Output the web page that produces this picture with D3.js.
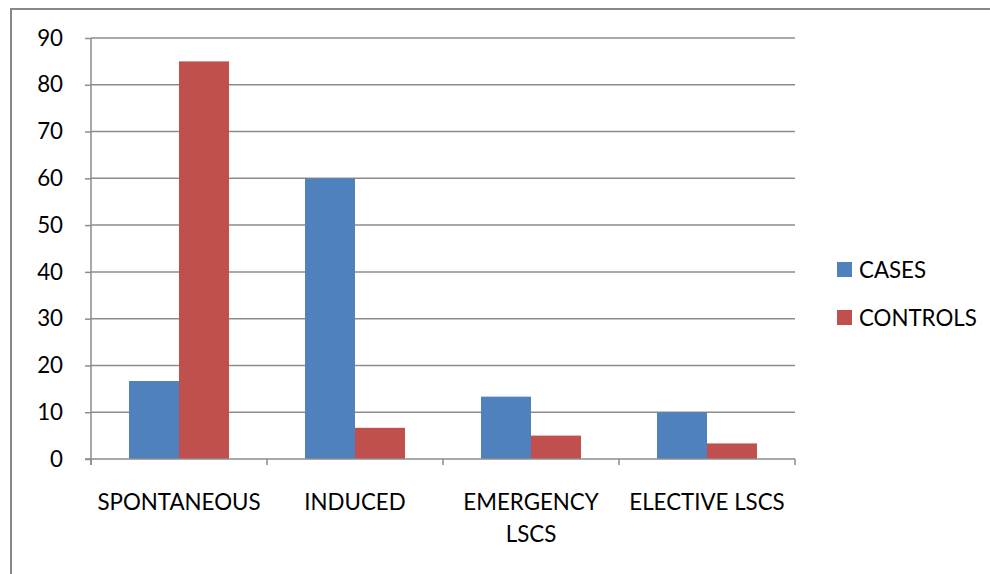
<!DOCTYPE html>
<html>
<head>
<meta charset="utf-8">
<script src="https://cdn.jsdelivr.net/npm/d3@7"></script>
<style>
  html, body { margin: 0; padding: 0; background: #fff; }
  svg { display: block; font-family: Lato, "Open Sans", sans-serif; }
</style>
</head>
<body>
<svg id="chart" width="990" height="574"></svg>
<script>
// Delivery mode: cases vs controls (%)
const categories = [["SPONTANEOUS"], ["INDUCED"], ["EMERGENCY", "LSCS"], ["ELECTIVE LSCS"]];
const seriesNames = ["CASES", "CONTROLS"];
const cases = [16.67, 60, 13.33, 10];
const controls = [85, 6.67, 5, 3.33];
const yTicks = [0, 10, 20, 30, 40, 50, 60, 70, 80, 90];
const colors = ["#4F81BD", "#C0504D"];

const svg = d3.select("#chart");
const W = 990, H = 574;
const plot = { left: 91, right: 795, top: 38, bottom: 459 };
const FS = 22.3;

// Outer chart border
svg.append("rect")
  .attr("x", 11).attr("y", 9)
  .attr("width", W + 20).attr("height", H + 20)
  .attr("fill", "none").attr("stroke", "#878787").attr("stroke-width", 2);

const catKeys = categories.map(c => c.join(" "));
const x0 = d3.scaleBand().domain(catKeys).range([plot.left, plot.right]).paddingInner(0).paddingOuter(0);
const barW = x0.bandwidth() * 0.284;
const y = d3.scaleLinear().domain([0, 90]).range([plot.bottom, plot.top]);

// Gridlines
svg.append("g").selectAll("line").data(yTicks.filter(v => v > 0)).join("line")
  .attr("x1", plot.left).attr("x2", plot.right)
  .attr("y1", d => y(d)).attr("y2", d => y(d))
  .attr("stroke", "#8c8c8c").attr("stroke-width", 1.5);

// Bars
const rows = catKeys.map((k, i) => ({ key: k, vals: [cases[i], controls[i]] }));
const g = svg.append("g");
rows.forEach(r => {
  r.vals.forEach((v, j) => {
    const bx = x0(r.key) + (x0.bandwidth() - 2 * barW) / 2 + j * barW;
    g.append("rect")
      .attr("x", bx).attr("width", barW)
      .attr("y", y(v)).attr("height", y(0) - y(v))
      .attr("fill", colors[j]);
  });
});

// Y axis
const yAxis = d3.axisLeft(y).tickValues(yTicks).tickSize(6).tickPadding(22);
const ya = svg.append("g").attr("transform", `translate(${plot.left},0)`).call(yAxis);
ya.select(".domain").attr("stroke", "#8c8c8c").attr("stroke-width", 1.5).attr("d", `M0,${plot.top}V${plot.bottom + 6}`);
ya.selectAll(".tick line").attr("stroke", "#8c8c8c").attr("stroke-width", 1.5);
ya.selectAll("text").attr("font-size", FS).attr("fill", "#000").attr("font-family", "Lato, sans-serif");

// X axis (category boundaries as ticks)
const xa = svg.append("g");
xa.append("line").attr("x1", plot.left - 6).attr("x2", plot.right)
  .attr("y1", plot.bottom).attr("y2", plot.bottom)
  .attr("stroke", "#8c8c8c").attr("stroke-width", 1.5);
const bounds = catKeys.map(k => x0(k)).concat([plot.right]);
xa.selectAll("line.tk").data(bounds).join("line").attr("class", "tk")
  .attr("x1", d => d).attr("x2", d => d)
  .attr("y1", plot.bottom).attr("y2", plot.bottom + 6)
  .attr("stroke", "#8c8c8c").attr("stroke-width", 1.5);

// Category labels
categories.forEach((lines, i) => {
  const cx = x0(catKeys[i]) + x0.bandwidth() / 2;
  const t = svg.append("text").attr("text-anchor", "middle")
    .attr("font-size", FS).attr("fill", "#000");
  lines.forEach((ln, li) => {
    t.append("tspan").attr("x", cx).attr("y", 510 + li * 32).text(ln);
  });
});

// Legend
const lg = svg.append("g");
seriesNames.forEach((n, i) => {
  const ly = 262 + i * 48;
  lg.append("rect").attr("x", 837).attr("y", ly).attr("width", 15).attr("height", 15).attr("fill", colors[i]);
  lg.append("text").attr("x", 859).attr("y", ly + 16).attr("font-size", FS).attr("fill", "#000").text(n);
});
</script>
</body>
</html>
